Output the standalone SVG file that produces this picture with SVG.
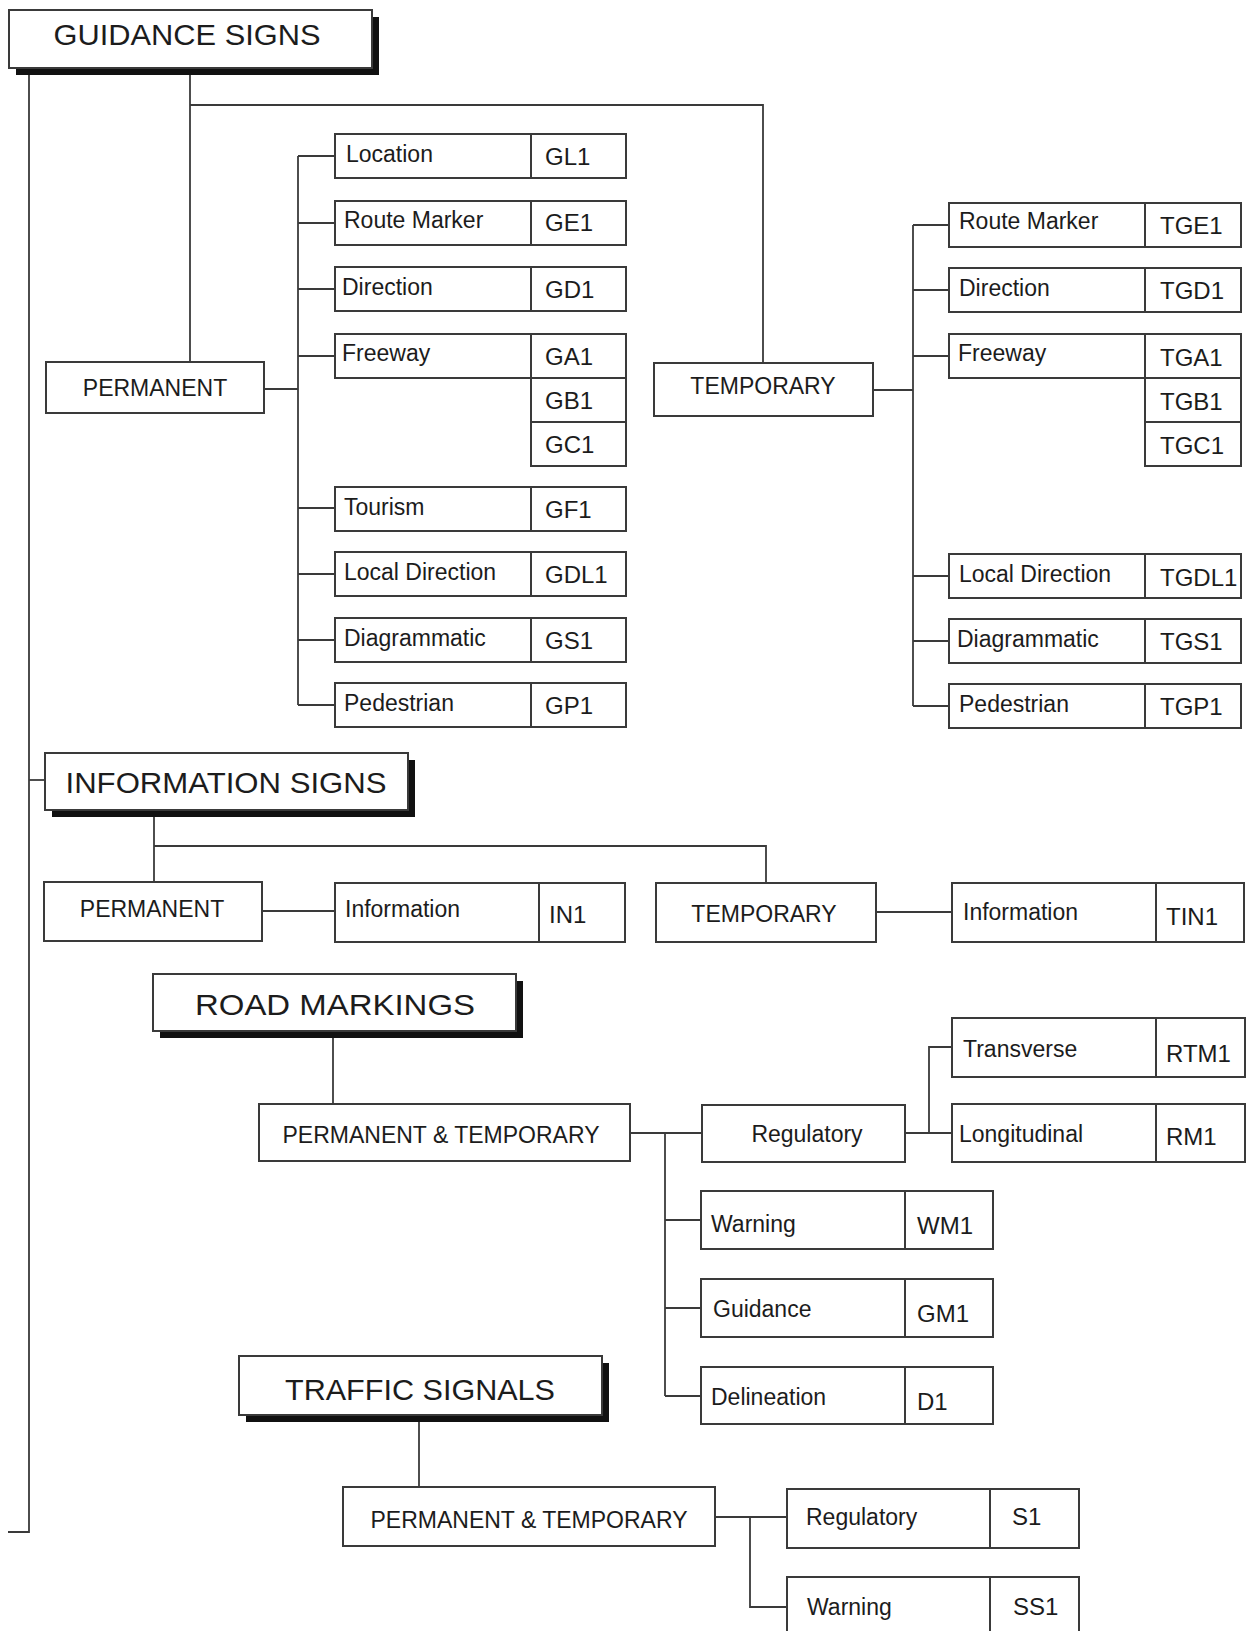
<svg xmlns="http://www.w3.org/2000/svg" width="1246" height="1631" viewBox="0 0 1246 1631">
  <style>
    .bg { fill: #ffffff; }
    .box { fill: #ffffff; stroke: #3a3a3a; stroke-width: 2; }
    .div { stroke: #3a3a3a; stroke-width: 2; }
    .shadow { fill: #111111; }
    .wire { fill: none; stroke: #3a3a3a; stroke-width: 1.8; }
    text { font-family: "Liberation Sans", Arial, Helvetica, sans-serif; fill: #1c1c1c; }
    .head { font-size: 30px; text-anchor: middle; }
    .mid { font-size: 23px; text-anchor: middle; }
    .lbl { font-size: 23px; }
    .code { font-size: 24px; }
  </style>

  <rect class="bg" x="0" y="0" width="1246" height="1631"/>

  <!-- connectors -->
  <g id="connectors">
    <!-- main spine -->
    <path class="wire" d="M29 68 V1532 H8"/>
    <path class="wire" d="M29 780 H45"/>
    <!-- guidance signs -->
    <path class="wire" d="M190 68 V362"/>
    <path class="wire" d="M190 105 H763 V363"/>
    <path class="wire" d="M264 389 H298"/>
    <path class="wire" d="M298 156 V705"/>
    <path class="wire" d="M298 156 H335 M298 223 H335 M298 289 H335 M298 356 H335 M298 508 H335 M298 574 H335 M298 640 H335 M298 705 H335"/>
    <path class="wire" d="M873 390 H913"/>
    <path class="wire" d="M913 225 V706"/>
    <path class="wire" d="M913 225 H949 M913 290 H949 M913 356 H949 M913 576 H949 M913 641 H949 M913 706 H949"/>
    <!-- information signs -->
    <path class="wire" d="M154 810 V882"/>
    <path class="wire" d="M154 846 H766 V883"/>
    <path class="wire" d="M262 911 H335"/>
    <path class="wire" d="M876 912 H952"/>
    <!-- road markings -->
    <path class="wire" d="M333 1031 V1104"/>
    <path class="wire" d="M630 1133 H702"/>
    <path class="wire" d="M665 1133 V1396"/>
    <path class="wire" d="M665 1220 H701 M665 1308 H701 M665 1396 H701"/>
    <path class="wire" d="M905 1133 H952"/>
    <path class="wire" d="M929 1133 V1047 H952"/>
    <!-- traffic signals -->
    <path class="wire" d="M419 1415 V1487"/>
    <path class="wire" d="M715 1517 H787"/>
    <path class="wire" d="M750 1517 V1607 H787"/>
  </g>

  <!-- section headers -->
  <g id="guidance-signs">
    <rect class="shadow" x="16" y="17" width="363" height="58"/>
    <rect class="box" x="9" y="10" width="363" height="58"/>
    <text class="head" x="187" y="45" textLength="267" lengthAdjust="spacingAndGlyphs">GUIDANCE SIGNS</text>
  </g>
  <g id="information-signs">
    <rect class="shadow" x="52" y="760" width="363" height="57"/>
    <rect class="box" x="45" y="753" width="363" height="57"/>
    <text class="head" x="226" y="793" textLength="321" lengthAdjust="spacingAndGlyphs">INFORMATION SIGNS</text>
  </g>
  <g id="road-markings">
    <rect class="shadow" x="160" y="981" width="363" height="57"/>
    <rect class="box" x="153" y="974" width="363" height="57"/>
    <text class="head" x="335" y="1015" textLength="280" lengthAdjust="spacingAndGlyphs">ROAD MARKINGS</text>
  </g>
  <g id="traffic-signals">
    <rect class="shadow" x="246" y="1363" width="363" height="59"/>
    <rect class="box" x="239" y="1356" width="363" height="59"/>
    <text class="head" x="420" y="1400" textLength="270" lengthAdjust="spacingAndGlyphs">TRAFFIC SIGNALS</text>
  </g>

  <!-- guidance: permanent -->
  <g id="g-permanent">
    <rect class="box" x="46" y="362" width="218" height="51"/>
    <text class="mid" x="155" y="396">PERMANENT</text>
  </g>
  <g id="g-location">
    <rect class="box" x="335" y="134" width="291" height="44"/>
    <line class="div" x1="531" y1="134" x2="531" y2="178"/>
    <text class="lbl" x="346" y="162">Location</text>
    <text class="code" x="545" y="165">GL1</text>
  </g>
  <g id="g-route">
    <rect class="box" x="335" y="201" width="291" height="44"/>
    <line class="div" x1="531" y1="201" x2="531" y2="245"/>
    <text class="lbl" x="344" y="228">Route Marker</text>
    <text class="code" x="545" y="231">GE1</text>
  </g>
  <g id="g-direction">
    <rect class="box" x="335" y="267" width="291" height="44"/>
    <line class="div" x1="531" y1="267" x2="531" y2="311"/>
    <text class="lbl" x="342" y="295">Direction</text>
    <text class="code" x="545" y="298">GD1</text>
  </g>
  <g id="g-freeway">
    <rect class="box" x="335" y="334" width="196" height="44"/>
    <rect class="box" x="531" y="334" width="95" height="44"/>
    <rect class="box" x="531" y="378" width="95" height="44"/>
    <rect class="box" x="531" y="422" width="95" height="44"/>
    <text class="lbl" x="342" y="361">Freeway</text>
    <text class="code" x="545" y="365">GA1</text>
    <text class="code" x="545" y="409">GB1</text>
    <text class="code" x="545" y="453">GC1</text>
  </g>
  <g id="g-tourism">
    <rect class="box" x="335" y="487" width="291" height="44"/>
    <line class="div" x1="531" y1="487" x2="531" y2="531"/>
    <text class="lbl" x="344" y="515">Tourism</text>
    <text class="code" x="545" y="518">GF1</text>
  </g>
  <g id="g-local">
    <rect class="box" x="335" y="552" width="291" height="44"/>
    <line class="div" x1="531" y1="552" x2="531" y2="596"/>
    <text class="lbl" x="344" y="580">Local Direction</text>
    <text class="code" x="545" y="583">GDL1</text>
  </g>
  <g id="g-diagrammatic">
    <rect class="box" x="335" y="618" width="291" height="44"/>
    <line class="div" x1="531" y1="618" x2="531" y2="662"/>
    <text class="lbl" x="344" y="646">Diagrammatic</text>
    <text class="code" x="545" y="649">GS1</text>
  </g>
  <g id="g-pedestrian">
    <rect class="box" x="335" y="683" width="291" height="44"/>
    <line class="div" x1="531" y1="683" x2="531" y2="727"/>
    <text class="lbl" x="344" y="711">Pedestrian</text>
    <text class="code" x="545" y="714">GP1</text>
  </g>

  <!-- guidance: temporary -->
  <g id="g-temporary">
    <rect class="box" x="654" y="363" width="219" height="53"/>
    <text class="mid" x="763" y="394">TEMPORARY</text>
  </g>
  <g id="tg-route">
    <rect class="box" x="949" y="203" width="292" height="44"/>
    <line class="div" x1="1145" y1="203" x2="1145" y2="247"/>
    <text class="lbl" x="959" y="229">Route Marker</text>
    <text class="code" x="1160" y="234">TGE1</text>
  </g>
  <g id="tg-direction">
    <rect class="box" x="949" y="268" width="292" height="44"/>
    <line class="div" x1="1145" y1="268" x2="1145" y2="312"/>
    <text class="lbl" x="959" y="296">Direction</text>
    <text class="code" x="1160" y="299">TGD1</text>
  </g>
  <g id="tg-freeway">
    <rect class="box" x="949" y="334" width="196" height="44"/>
    <rect class="box" x="1145" y="334" width="96" height="44"/>
    <rect class="box" x="1145" y="378" width="96" height="44"/>
    <rect class="box" x="1145" y="422" width="96" height="44"/>
    <text class="lbl" x="958" y="361">Freeway</text>
    <text class="code" x="1160" y="366">TGA1</text>
    <text class="code" x="1160" y="410">TGB1</text>
    <text class="code" x="1160" y="454">TGC1</text>
  </g>
  <g id="tg-local">
    <rect class="box" x="949" y="554" width="292" height="44"/>
    <line class="div" x1="1145" y1="554" x2="1145" y2="598"/>
    <text class="lbl" x="959" y="582">Local Direction</text>
    <text class="code" x="1160" y="586">TGDL1</text>
  </g>
  <g id="tg-diagrammatic">
    <rect class="box" x="949" y="619" width="292" height="44"/>
    <line class="div" x1="1145" y1="619" x2="1145" y2="663"/>
    <text class="lbl" x="957" y="647">Diagrammatic</text>
    <text class="code" x="1160" y="650">TGS1</text>
  </g>
  <g id="tg-pedestrian">
    <rect class="box" x="949" y="684" width="292" height="44"/>
    <line class="div" x1="1145" y1="684" x2="1145" y2="728"/>
    <text class="lbl" x="959" y="712">Pedestrian</text>
    <text class="code" x="1160" y="715">TGP1</text>
  </g>

  <!-- information signs -->
  <g id="i-permanent">
    <rect class="box" x="44" y="882" width="218" height="59"/>
    <text class="mid" x="152" y="917">PERMANENT</text>
  </g>
  <g id="i-information">
    <rect class="box" x="335" y="883" width="290" height="59"/>
    <line class="div" x1="539" y1="883" x2="539" y2="942"/>
    <text class="lbl" x="345" y="917">Information</text>
    <text class="code" x="549" y="923">IN1</text>
  </g>
  <g id="i-temporary">
    <rect class="box" x="656" y="883" width="220" height="59"/>
    <text class="mid" x="764" y="922">TEMPORARY</text>
  </g>
  <g id="ti-information">
    <rect class="box" x="952" y="883" width="292" height="59"/>
    <line class="div" x1="1156" y1="883" x2="1156" y2="942"/>
    <text class="lbl" x="963" y="920">Information</text>
    <text class="code" x="1166" y="925">TIN1</text>
  </g>

  <!-- road markings -->
  <g id="r-perm-temp">
    <rect class="box" x="259" y="1104" width="371" height="57"/>
    <text class="mid" x="441" y="1143">PERMANENT &amp; TEMPORARY</text>
  </g>
  <g id="r-regulatory">
    <rect class="box" x="702" y="1105" width="203" height="57"/>
    <text class="mid" x="807" y="1142">Regulatory</text>
  </g>
  <g id="r-transverse">
    <rect class="box" x="952" y="1018" width="293" height="59"/>
    <line class="div" x1="1156" y1="1018" x2="1156" y2="1077"/>
    <text class="lbl" x="963" y="1057">Transverse</text>
    <text class="code" x="1166" y="1062">RTM1</text>
  </g>
  <g id="r-longitudinal">
    <rect class="box" x="952" y="1104" width="293" height="58"/>
    <line class="div" x1="1156" y1="1104" x2="1156" y2="1162"/>
    <text class="lbl" x="959" y="1142">Longitudinal</text>
    <text class="code" x="1166" y="1145">RM1</text>
  </g>
  <g id="r-warning">
    <rect class="box" x="701" y="1191" width="292" height="58"/>
    <line class="div" x1="905" y1="1191" x2="905" y2="1249"/>
    <text class="lbl" x="711" y="1232">Warning</text>
    <text class="code" x="917" y="1234">WM1</text>
  </g>
  <g id="r-guidance">
    <rect class="box" x="701" y="1279" width="292" height="58"/>
    <line class="div" x1="905" y1="1279" x2="905" y2="1337"/>
    <text class="lbl" x="713" y="1317">Guidance</text>
    <text class="code" x="917" y="1322">GM1</text>
  </g>
  <g id="r-delineation">
    <rect class="box" x="701" y="1367" width="292" height="57"/>
    <line class="div" x1="905" y1="1367" x2="905" y2="1424"/>
    <text class="lbl" x="711" y="1405">Delineation</text>
    <text class="code" x="917" y="1410">D1</text>
  </g>

  <!-- traffic signals -->
  <g id="s-perm-temp">
    <rect class="box" x="343" y="1487" width="372" height="59"/>
    <text class="mid" x="529" y="1528">PERMANENT &amp; TEMPORARY</text>
  </g>
  <g id="s-regulatory">
    <rect class="box" x="787" y="1489" width="292" height="59"/>
    <line class="div" x1="990" y1="1489" x2="990" y2="1548"/>
    <text class="lbl" x="806" y="1525">Regulatory</text>
    <text class="code" x="1012" y="1525">S1</text>
  </g>
  <g id="s-warning">
    <rect class="box" x="787" y="1577" width="292" height="62"/>
    <line class="div" x1="990" y1="1577" x2="990" y2="1639"/>
    <text class="lbl" x="807" y="1615">Warning</text>
    <text class="code" x="1013" y="1615">SS1</text>
  </g>
</svg>
